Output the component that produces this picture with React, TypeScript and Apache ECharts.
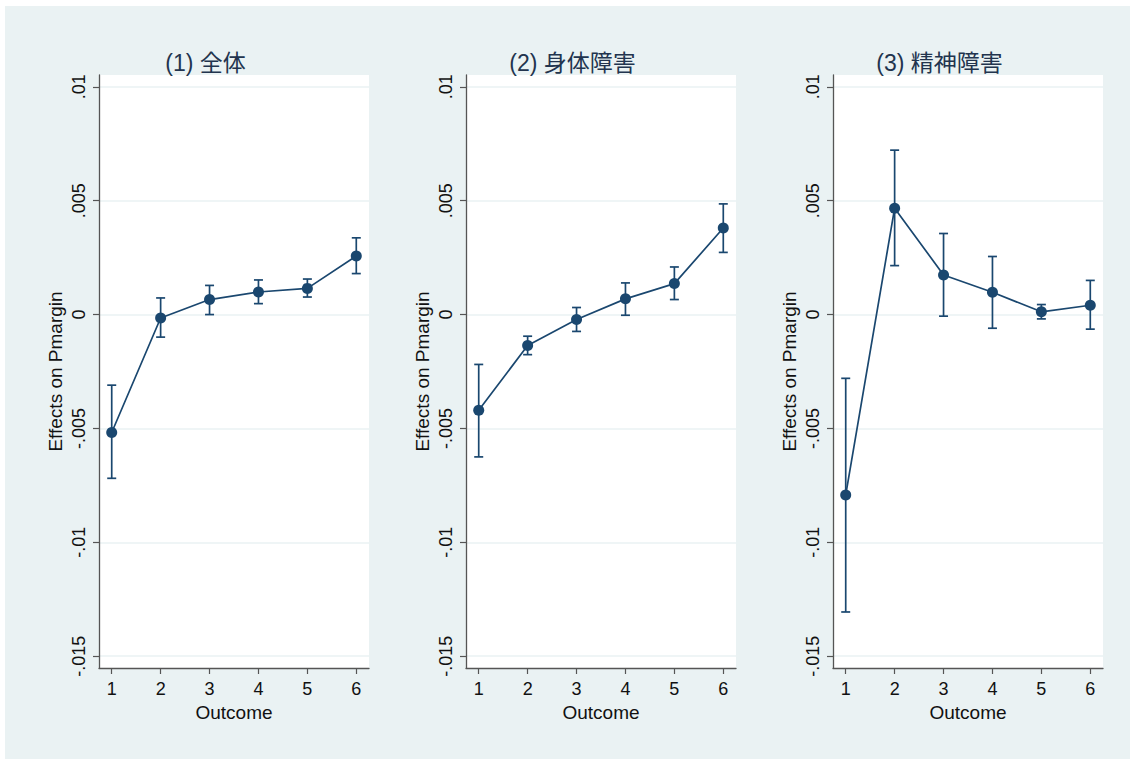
import React, { useEffect, useRef } from "react";
import * as echarts from "echarts";

// ---- data ----
const outcomes = [1, 2, 3, 4, 5, 6];
const panelTitles = ["(1) 全体", "(2) 身体障害", "(3) 精神障害"];

const p1Est = [-0.00518, -0.00015, 0.00066, 0.00099, 0.00115, 0.00257];
const p1Lo = [-0.00719, -0.00099, 0.0, 0.00048, 0.00077, 0.0018];
const p1Hi = [-0.0031, 0.00073, 0.00128, 0.00152, 0.00156, 0.00337];

const p2Est = [-0.0042, -0.00136, -0.00022, 0.00069, 0.00136, 0.0038];
const p2Lo = [-0.00625, -0.00176, -0.00074, -0.00003, 0.00066, 0.00273];
const p2Hi = [-0.00219, -0.00095, 0.00031, 0.00139, 0.00209, 0.00486];

const p3Est = [-0.00792, 0.00467, 0.00174, 0.00098, 0.00012, 0.00041];
const p3Lo = [-0.01306, 0.00215, -0.00007, -0.0006, -0.00019, -0.00064];
const p3Hi = [-0.0028, 0.00722, 0.00356, 0.00255, 0.00044, 0.0015];

const yTicks = [-0.015, -0.01, -0.005, 0, 0.005, 0.01];
const xTitle = "Outcome";
const yTitle = "Effects on Pmargin";

const panels = [
  { est: p1Est, lo: p1Lo, hi: p1Hi },
  { est: p2Est, lo: p2Lo, hi: p2Hi },
  { est: p3Est, lo: p3Lo, hi: p3Hi },
];

const NAVY = "#1a476f";
const BG = "#eaf2f3";
const AXIS = "#555555";
const FONT = '"Liberation Sans", Arial, "Noto Sans CJK JP", sans-serif';

const fmtY = (v: number) => {
  if (Math.abs(v) < 1e-12) return "0";
  return String(+v.toFixed(3)).replace("0.", ".");
};

export default function App() {
  const ref = useRef<HTMLDivElement>(null);
  useEffect(() => {
    if (!ref.current) return;
    const chart = echarts.init(ref.current, undefined, { renderer: "svg" });
    const lefts = [99, 466, 833];
    const gridW = 270;
    const top = 75;
    const height = 593;

    const grids = lefts.map((l) => ({
      left: l,
      top,
      width: gridW,
      height,
      show: true,
      backgroundColor: "#ffffff",
      borderWidth: 0,
    }));

    const xAxes = lefts.map((_, i) => ({
      type: "value",
      gridIndex: i,
      min: 0.74,
      max: 6.26,
      name: xTitle,
      nameLocation: "middle",
      nameGap: 32,
      nameTextStyle: { fontSize: 19, color: "#111", fontFamily: FONT },
      axisLine: { show: true, onZero: false, lineStyle: { color: AXIS, width: 1.3 } },
      axisTick: { show: true, length: 6, customValues: outcomes, lineStyle: { color: AXIS, width: 1.2 } },
      axisLabel: { customValues: outcomes, fontSize: 18, color: "#111", margin: 12, fontFamily: FONT },
      splitLine: { show: false },
    }));

    const yAxes = lefts.map((_, i) => ({
      type: "value",
      gridIndex: i,
      min: -0.01552,
      max: 0.01052,
      name: yTitle,
      nameLocation: "middle",
      nameRotate: 90,
      nameGap: 34,
      nameTextStyle: { fontSize: 19, color: "#111", fontFamily: FONT },
      axisLine: { show: true, onZero: false, lineStyle: { color: AXIS, width: 1.3 } },
      axisTick: { show: true, length: 6, customValues: yTicks, lineStyle: { color: AXIS, width: 1.2 } },
      axisLabel: {
        customValues: yTicks,
        rotate: 90,
        fontSize: 18,
        color: "#111",
        margin: 11,
        fontFamily: FONT,
        formatter: (v: number) => fmtY(v),
      },
      splitLine: { show: true, lineStyle: { color: BG, width: 1.5 } },
    }));

    const series: any[] = [];
    panels.forEach((p, i) => {
      series.push({
        type: "custom",
        xAxisIndex: i,
        yAxisIndex: i,
        data: outcomes.map((x, k) => [x, p.lo[k], p.hi[k]]),
        renderItem: (params: any, api: any) => {
          const x = api.value(0);
          const a = api.coord([x, api.value(1)]);
          const b = api.coord([x, api.value(2)]);
          const hw = 4.5;
          const style = { stroke: NAVY, lineWidth: 1.7, fill: "none" };
          return {
            type: "group",
            children: [
              { type: "line", shape: { x1: a[0], y1: a[1], x2: b[0], y2: b[1] }, style },
              { type: "line", shape: { x1: a[0] - hw, y1: a[1], x2: a[0] + hw, y2: a[1] }, style },
              { type: "line", shape: { x1: b[0] - hw, y1: b[1], x2: b[0] + hw, y2: b[1] }, style },
            ],
          };
        },
        z: 3,
      });
      series.push({
        type: "line",
        xAxisIndex: i,
        yAxisIndex: i,
        data: outcomes.map((x, k) => [x, p.est[k]]),
        symbol: "circle",
        symbolSize: 11,
        showSymbol: true,
        lineStyle: { color: NAVY, width: 1.7 },
        itemStyle: { color: NAVY },
        z: 4,
      });
    });

    const titleCenters = lefts.map((l) => l + gridW / 2 - 28.5);

    chart.setOption({
      animation: false,
      backgroundColor: "#ffffff",
      textStyle: { fontFamily: FONT },
      grid: grids,
      xAxis: xAxes,
      yAxis: yAxes,
      series,
      graphic: [
        {
          type: "rect",
          z: -100,
          silent: true,
          shape: { x: 5, y: 6, width: 1125, height: 753 },
          style: { fill: BG },
        },
        ...panelTitles.map((t, i) => ({
          type: "text",
          x: titleCenters[i],
          y: 63,
          z: 10,
          style: {
            text: t,
            textAlign: "center",
            textVerticalAlign: "middle",
            fontSize: 23,
            fill: "#22344e",
            fontFamily: FONT,
          },
        })),
      ],
    });
    return () => chart.dispose();
  }, []);
  return (
    <div
      ref={ref}
      style={{ position: "absolute", left: 0, top: 0, width: 1130, height: 759 }}
    />
  );
}
